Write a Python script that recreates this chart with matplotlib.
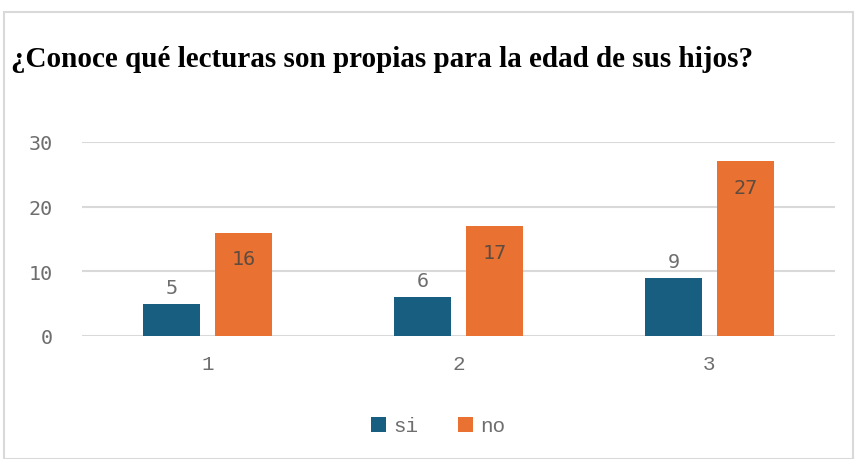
import matplotlib.pyplot as plt
from matplotlib.patches import Rectangle
import numpy as np

# datos del grafico
categorias = ['1', '2', '3']
si = [5, 6, 9]
no = [16, 17, 27]
yticks = [0, 10, 20, 30]

azul = '#175E80'
naranja = '#E97132'
gris = '#6e6e6e'

fig = plt.figure(figsize=(8.56, 4.6), dpi=100)
W, H = 856, 460
ax = fig.add_axes([82 / W, 1 - 337 / H, (835 - 82) / W, (337 - 143) / H])

x = np.arange(1, len(categorias) + 1)
ancho = 0.227
desp = 0.143
b1 = ax.bar(x - desp, si, ancho, color=azul, label='si', zorder=3)
b2 = ax.bar(x + desp, no, ancho, color=naranja, label='no', zorder=3)

# etiquetas de valores
for r, v in zip(b1, si):
    ax.annotate(str(v), (r.get_x() + r.get_width() / 2, v), xytext=(0, 5),
                textcoords='offset points', ha='center', va='bottom',
                family='DejaVu Sans Mono', fontsize=14.5, color=gris)
for r, v in zip(b2, no):
    ax.annotate(str(v), (r.get_x() + r.get_width() / 2, v), xytext=(0, -12),
                textcoords='offset points', ha='center', va='top',
                family='DejaVu Sans Mono', fontsize=14.5, color='#5e4c40')

ax.set_xlim(0.5, 3.5)
ax.set_ylim(0, 30)
ax.set_yticks(yticks)
ax.set_yticklabels([str(t) for t in yticks], family='DejaVu Sans Mono',
                   fontsize=14.5, color=gris)
ax.set_xticks(x)
ax.set_xticklabels(categorias, family='Liberation Mono', fontsize=15, color=gris)
ax.tick_params(length=0)
ax.tick_params(axis='x', pad=13)
ax.tick_params(axis='y', pad=21)
ax.grid(axis='y', color='#D9D9D9', linewidth=1.5, zorder=0)
for s in ax.spines.values():
    s.set_visible(False)

fig.text(11 / W, 1 - 67 / H, '¿Conoce qué lecturas son propias para la edad de sus hijos?',
         family='Liberation Serif', fontweight='bold', fontsize=21, color='black',
         ha='left', va='baseline')

leg = fig.legend(handles=[b1, b2], loc='center', bbox_to_anchor=(438 / W, 1 - 427 / H),
                 ncol=2, frameon=False, handlelength=0.72, handleheight=0.72,
                 handletextpad=0.35, columnspacing=1.9,
                 prop={'family': 'Liberation Mono', 'size': 15})
for t in leg.get_texts():
    t.set_color(gris)

# marco del grafico
fig.patches.append(Rectangle((4 / W, 0), (853 - 4) / W, 1 - 13 / H,
                             transform=fig.transFigure, fill=False,
                             edgecolor='#D9D9D9', linewidth=1.5))

fig.savefig('out.png', dpi=100)
